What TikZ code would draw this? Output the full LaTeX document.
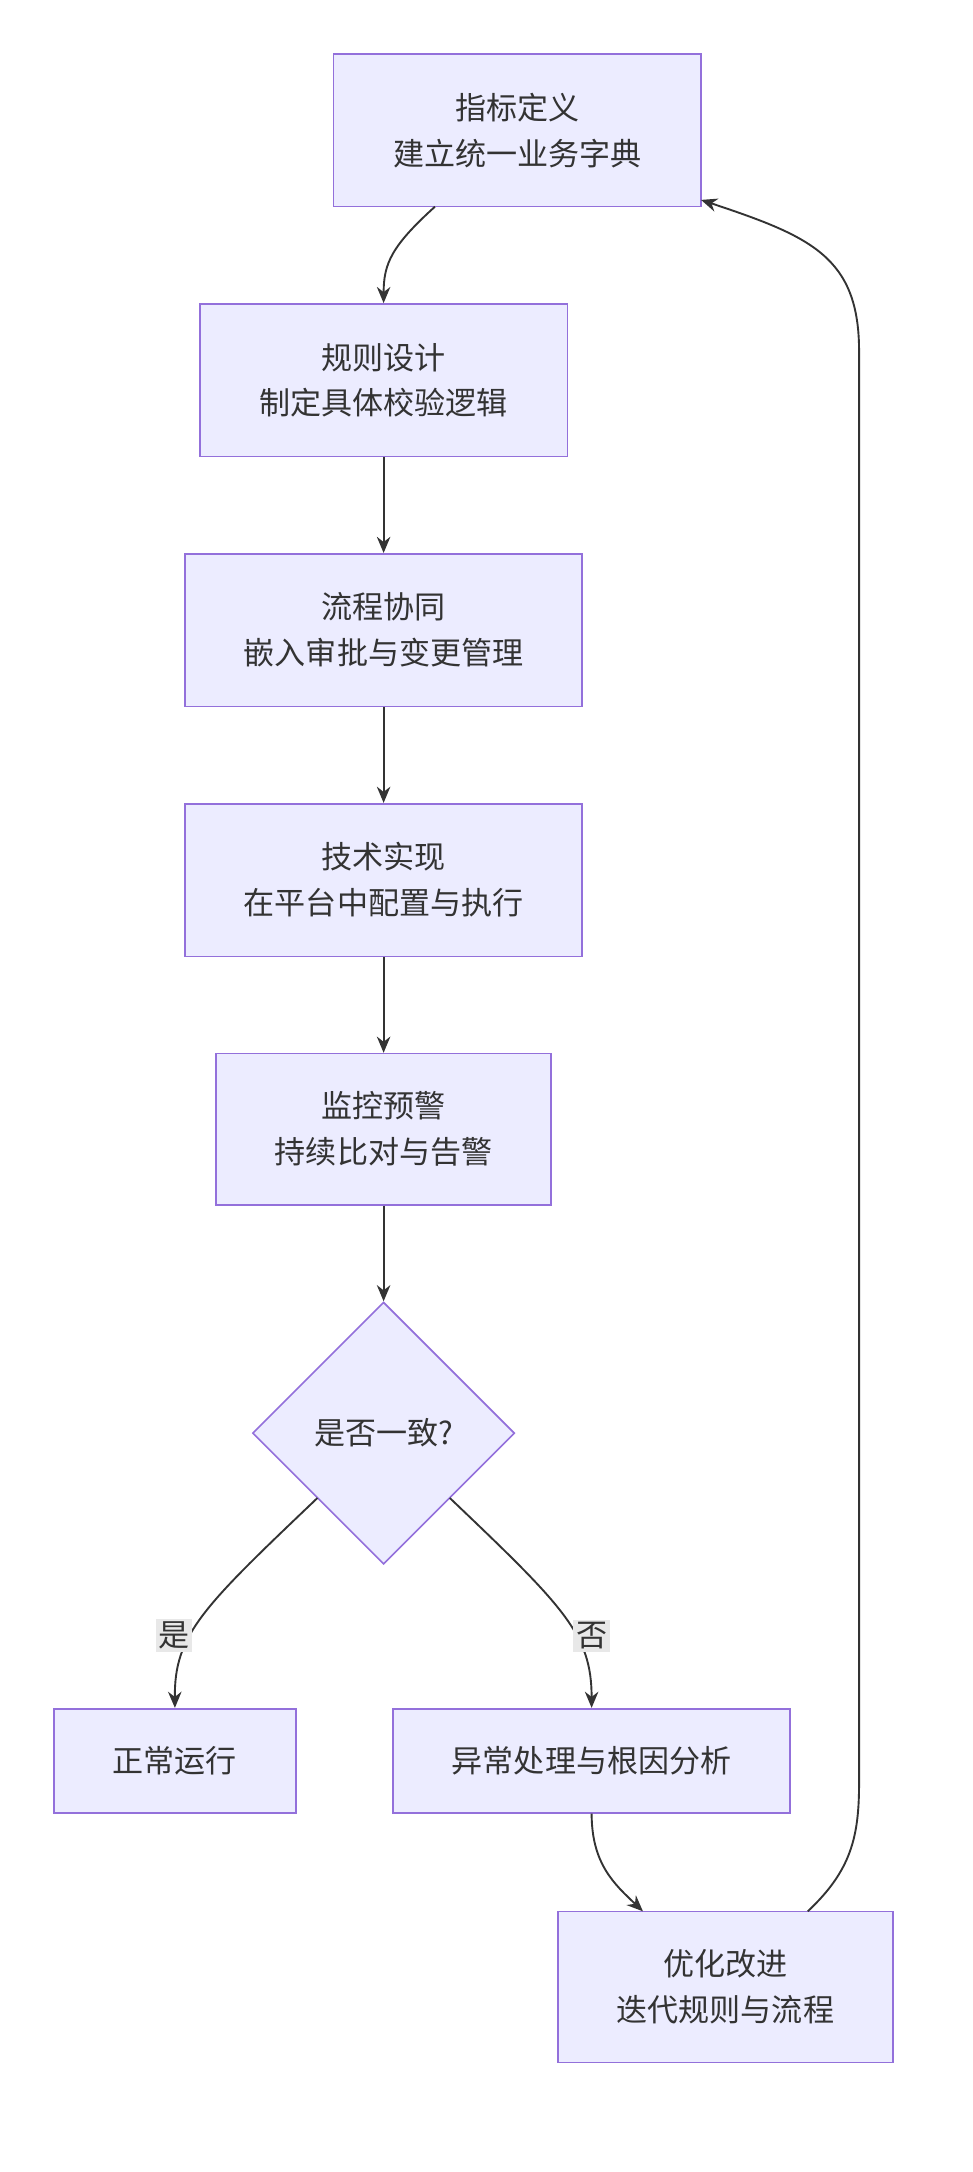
\documentclass[tikz,border=0pt]{standalone}
\usepackage{fontspec}
\setmainfont{Noto Sans CJK SC}
\usetikzlibrary{shapes.geometric,arrows.meta}
\definecolor{nf}{HTML}{ECECFF}
\definecolor{nb}{HTML}{9370DB}
\definecolor{ln}{HTML}{333333}
\definecolor{lb}{HTML}{E8E8E8}
\begin{document}
\begin{tikzpicture}[x=0.5pt,y=-0.5pt,
  box/.style={draw=nb,fill=nf,line width=0.6pt,align=center,font=\fontsize{11.5}{17}\selectfont,text=ln,inner sep=0pt},
  dia/.style={draw=nb,fill=nf,line width=0.6pt,diamond,font=\fontsize{11.5}{17}\selectfont,text=ln,minimum width=97pt,minimum height=97pt,inner sep=0pt},
  arr/.style={draw=ln,line width=0.7pt,-{Stealth[length=6pt,width=5pt]}},
  lab/.style={fill=lb,font=\fontsize{11.5}{14}\selectfont,text=ln,inner sep=1pt}]
\useasboundingbox (0,0) rectangle (720,1608);
\node[box,minimum width=136pt,minimum height=56.5pt] (A) at (383,96.5) {指标定义\\建立统一业务字典};
\node[box,minimum width=136pt,minimum height=56.5pt] (B) at (284,281.5) {规则设计\\制定具体校验逻辑};
\node[box,minimum width=147pt,minimum height=56.5pt] (C) at (284,466.5) {流程协同\\嵌入审批与变更管理};
\node[box,minimum width=147pt,minimum height=56.5pt] (D) at (284,651.5) {技术实现\\在平台中配置与执行};
\node[box,minimum width=124pt,minimum height=56pt] (E) at (284,836) {监控预警\\持续比对与告警};
\node[dia] (Q) at (284,1061) {是否一致?};
\node[box,minimum width=89.5pt,minimum height=38.5pt] (F) at (129.5,1303.5) {正常运行};
\node[box,minimum width=147pt,minimum height=38.5pt] (G) at (438,1303.5) {异常处理与根因分析};
\node[box,minimum width=124pt,minimum height=56pt] (H) at (537,1471) {优化改进\\迭代规则与流程};
\coordinate (a1) at (322,153);
\coordinate (h1) at (598,1415);
\coordinate (a2) at (519,148);
\draw[arr] (a1) .. controls (290,182) and (284,195) .. (B.north);
\draw[arr] (B) -- (C);
\draw[arr] (C) -- (D);
\draw[arr] (D) -- (E);
\draw[arr] (E) -- (Q);
\coordinate (q1) at (235,1109);
\coordinate (q2) at (333,1109);
\draw[arr] (q1) .. controls (150,1190) and (129,1210) .. (F.north);
\draw[arr] (q2) .. controls (418,1190) and (438,1210) .. (G.north);
\node[lab] (ly) at (129,1211) {是};
\node[lab] (ln) at (438,1211) {否};
\coordinate (h0) at (476,1415);
\draw[arr] (G.south) .. controls (438,1380) and (455,1395) .. (h0);
\draw[arr] (h1) .. controls (630,1385) and (636,1360) .. (636,1320) -- (636,260) .. controls (636,190) and (600,175) .. (a2);
\end{tikzpicture}
\end{document}
